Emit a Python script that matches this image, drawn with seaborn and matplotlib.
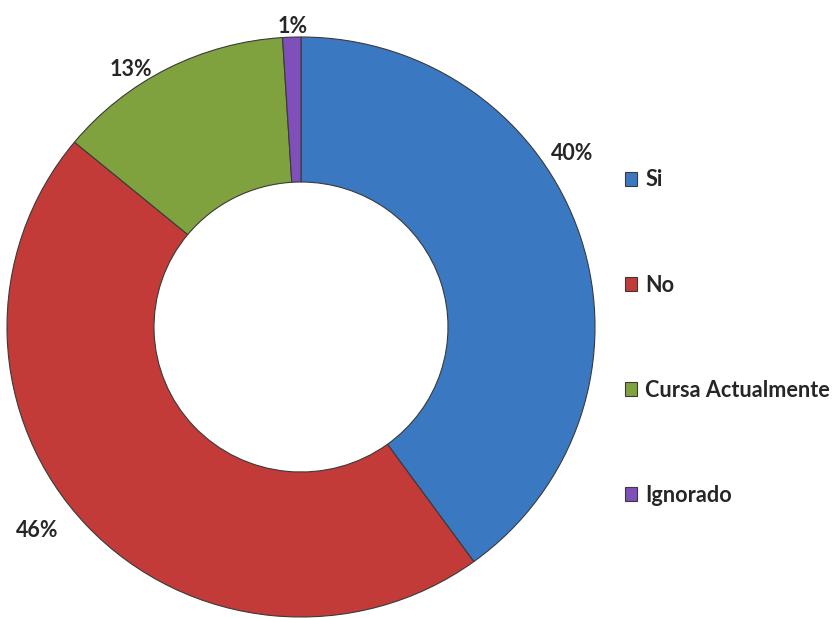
import numpy as np
import seaborn as sns
import matplotlib.pyplot as plt

categorias = ['Si', 'No', 'Cursa Actualmente', 'Ignorado']
porcentajes = [40, 46, 13, 1]
etiquetas = ['40%', '46%', '13%', '1%']

colores = ['#3B78C2', '#C23B38', '#7FA23F', '#7F4FBA']
# posicion de las etiquetas (angulo desde arriba, radio)
pos_etiquetas = [(57, 1.10), (232, 1.14), (327, 1.06), (358.5, 1.035)]

sns.set_style('white')
plt.rcParams['font.family'] = ['Lato', 'DejaVu Sans']

fig = plt.figure(figsize=(8.35, 6.18), dpi=100)
ax = fig.add_axes([7/835, 1/618, 588/835, 580/618])

wedges, _ = ax.pie(porcentajes, colors=colores, startangle=90, counterclock=False,
                   radius=1, wedgeprops=dict(width=0.5, edgecolor='#3a3a3a', linewidth=0.8))
ax.set_aspect('auto')
ax.set_xlim(-1, 1)
ax.set_ylim(-1, 1)
ax.axis('off')

for txt, (ang, r) in zip(etiquetas, pos_etiquetas):
    a = np.radians(ang)
    ax.text(r*np.sin(a), r*np.cos(a), txt, ha='center', va='center',
            fontsize=15.5, fontweight='bold', color='#262626')

leg = fig.legend(wedges, categorias, loc='upper left', bbox_to_anchor=(605/835, 1 - 150/618),
                 frameon=False, prop={'weight': 'bold', 'size': 15.6},
                 handlelength=0.58, handleheight=0.58, handletextpad=0.37, labelspacing=3.88)
for t in leg.get_texts():
    t.set_color('#262626')

fig.savefig('out.png', dpi=100)
